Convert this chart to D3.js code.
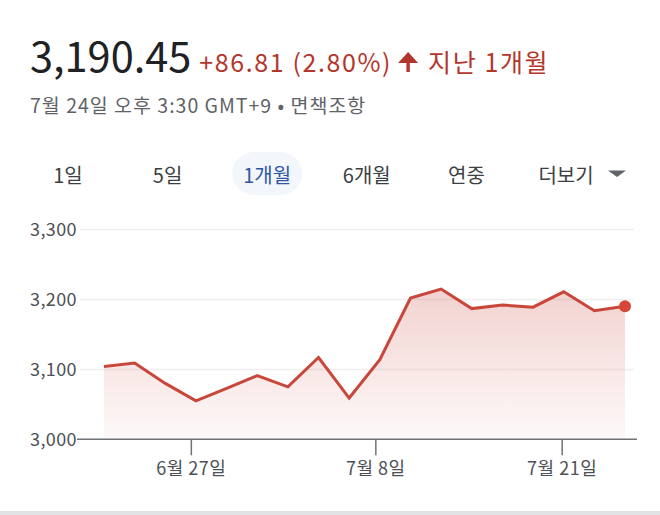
<!DOCTYPE html>
<html>
<head>
<meta charset="utf-8">
<script src="https://cdn.jsdelivr.net/npm/d3@7"></script>
<style>
  html, body { margin: 0; padding: 0; background: #fff; }
  svg { display: block; font-family: "Noto Sans CJK KR", "Noto Sans", sans-serif; }
</style>
</head>
<body>
<svg id="chart" width="660" height="515"></svg>
<script>
// ---- data ----
const priceText = "3,190.45";
const changeText = "+86.81 (2.80%)";
const periodText = "지난 1개월";
const subText = "7월 24일 오후 3:30 GMT+9 • 면책조항";
const tabs = ["1일", "5일", "1개월", "6개월", "연중", "더보기"];
const activeTab = "1개월";
const values = [3104, 3109, 3080, 3055, 3073, 3091, 3075, 3117, 3059, 3114,
                3202, 3215, 3187, 3192, 3189, 3211, 3184, 3190.45];
const yTicks = [3000, 3100, 3200, 3300];
const xTickIndex = [2.85, 8.87, 14.95];
const xTickLabels = ["6월 27일", "7월 8일", "7월 21일"];

// ---- drawing ----
const svg = d3.select("#chart");
const red = "#c8463a";
const hdrRed = "#b3362c";

// header
const h = svg.append("text").attr("x", 30).attr("y", 72);
h.append("tspan").attr("font-size", 41.5).attr("fill", "#202124").text(priceText);
h.append("tspan").attr("dx", 8).attr("font-size", 25).attr("letter-spacing", 1.6)
  .attr("fill", hdrRed).text(changeText);

const hBox = h.node().getBBox();
const ax = hBox.x + hBox.width + 16;
svg.append("path")
  .attr("d", `M${ax},${55} L${ax},${72}`)
  .attr("stroke", hdrRed).attr("stroke-width", 3.4).attr("fill", "none");
svg.append("path")
  .attr("d", `M${ax-10},${63} L${ax},${52} L${ax+10},${63} Z`)
  .attr("fill", hdrRed);
svg.append("text").attr("x", ax + 20).attr("y", 72)
  .attr("font-size", 25).attr("letter-spacing", 1.6)
  .attr("fill", hdrRed).text(periodText);

svg.append("text").attr("x", 30).attr("y", 113)
  .attr("font-size", 19.5).attr("letter-spacing", 1.0)
  .attr("fill", "#5f6368").text(subText);

// tabs
const tabCenters = d3.scalePoint().domain(tabs).range([68, 566]);
const tg = svg.append("g");
tabs.forEach(t => {
  const cx = tabCenters(t);
  if (t === activeTab) {
    tg.append("rect").attr("x", cx - 35).attr("y", 152).attr("width", 70).attr("height", 43)
      .attr("rx", 21.5).attr("fill", "#f3f6fa");
  }
  tg.append("text").attr("x", cx).attr("y", 183).attr("text-anchor", "middle")
    .attr("font-size", 20).attr("fill", t === activeTab ? "#2f56a5" : "#3c4043").text(t);
});
tg.append("path").attr("d", "M608,170.5 L626,170.5 L617,177 Z").attr("fill", "#5f6368");

// scales
const x = d3.scaleLinear().domain([0, values.length - 1]).range([104, 625]);
const y = d3.scaleLinear().domain([3000, 3300]).range([439.3, 229.6]);

// gridlines
svg.append("g").selectAll("line").data(yTicks.slice(1)).join("line")
  .attr("x1", 80).attr("x2", 634)
  .attr("y1", d => y(d)).attr("y2", d => y(d))
  .attr("stroke", "#efefef").attr("stroke-width", 1.5);

// y labels
svg.append("g").selectAll("text").data(yTicks).join("text")
  .attr("x", 77).attr("y", d => y(d)).attr("dy", "0.36em")
  .attr("text-anchor", "end").attr("font-size", 18).attr("letter-spacing", 0.4)
  .attr("fill", "#4d5156")
  .text(d => d3.format(",")(d));

// gradient area
const defs = svg.append("defs");
const grad = defs.append("linearGradient").attr("id", "ag")
  .attr("gradientUnits", "userSpaceOnUse")
  .attr("x1", 0).attr("x2", 0).attr("y1", y(3215)).attr("y2", y(3000));
grad.append("stop").attr("offset", 0).attr("stop-color", red).attr("stop-opacity", 0.24);
grad.append("stop").attr("offset", 1).attr("stop-color", red).attr("stop-opacity", 0.03);

svg.append("path").datum(values)
  .attr("d", d3.area().x((d, i) => x(i)).y0(y(3000)).y1(d => y(d)))
  .attr("fill", "url(#ag)");

svg.append("path").datum(values)
  .attr("d", d3.line().x((d, i) => x(i)).y(d => y(d)))
  .attr("fill", "none").attr("stroke", red).attr("stroke-width", 3)
  .attr("stroke-linejoin", "miter");

svg.append("circle")
  .attr("cx", x(values.length - 1)).attr("cy", y(values[values.length - 1]))
  .attr("r", 6).attr("fill", "#d6473a");

// x axis
svg.append("line").attr("x1", 77).attr("x2", 637)
  .attr("y1", y(3000)).attr("y2", y(3000))
  .attr("stroke", "#6f7276").attr("stroke-width", 1.5);
const xt = svg.append("g").selectAll("g").data(xTickIndex).join("g")
  .attr("transform", d => `translate(${x(d)},0)`);
xt.append("line").attr("y1", y(3000)).attr("y2", y(3000) + 16)
  .attr("stroke", "#6f7276").attr("stroke-width", 1.5);
xt.append("text").attr("y", 475).attr("text-anchor", "middle")
  .attr("font-size", 18).attr("letter-spacing", 0.5).attr("fill", "#4d5156")
  .text((d, i) => xTickLabels[i]);

// bottom divider
svg.append("rect").attr("x", 0).attr("y", 511).attr("width", 660).attr("height", 4)
  .attr("fill", "#e2e3e5");
</script>
</body>
</html>
